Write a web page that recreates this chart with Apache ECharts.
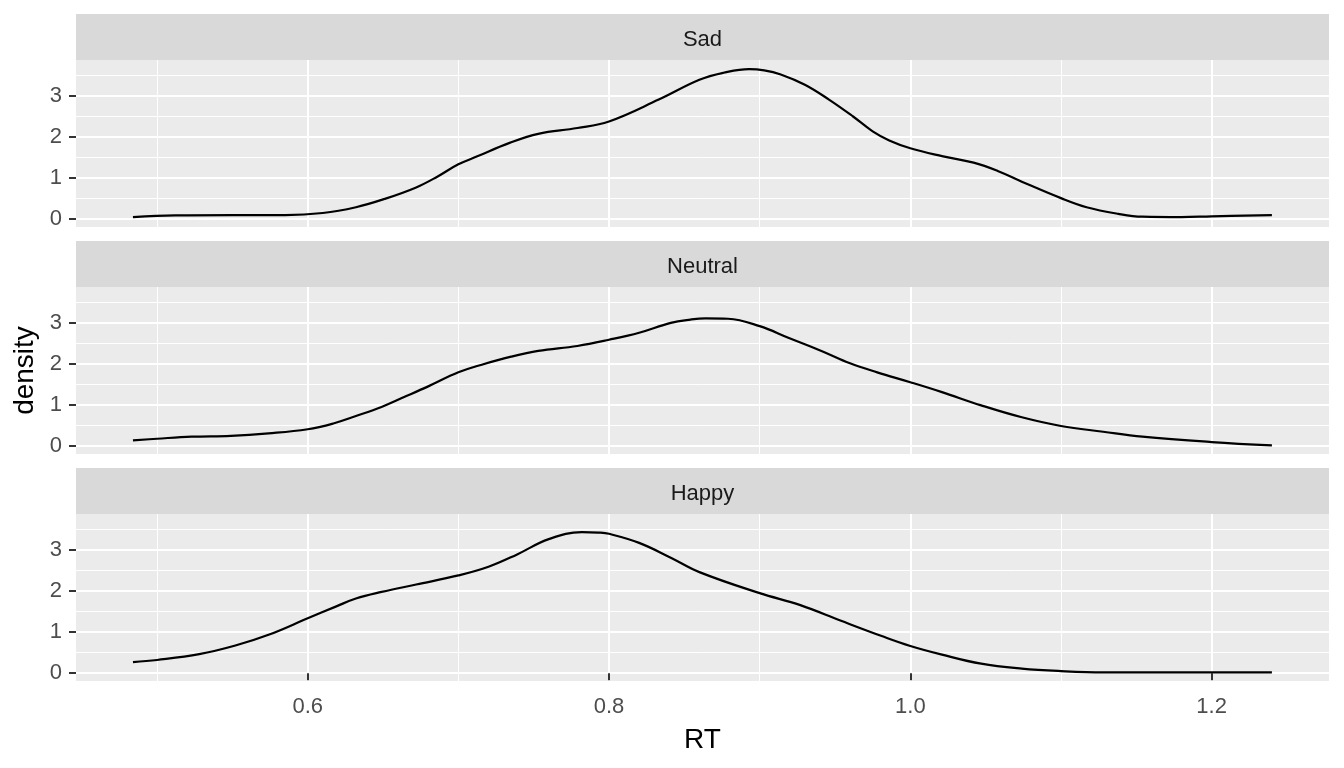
<!DOCTYPE html>
<html>
<head>
<meta charset="utf-8">
<script src="https://cdn.jsdelivr.net/npm/echarts@6/dist/echarts.min.js"></script>
<style>
html, body { margin: 0; padding: 0; background: #fff; }
#chart { width: 1344px; height: 768px; }
</style>
</head>
<body>
<div id="chart"></div>
<script>
// facet labels, top to bottom
var panelNames = ['Sad', 'Neutral', 'Happy'];

// density curves (RT, density)
var sadRT = [0.484, 0.512, 0.55, 0.585, 0.61, 0.632, 0.651, 0.672, 0.686, 0.7, 0.713, 0.734, 0.753, 0.779, 0.8, 0.833, 0.86, 0.876, 0.893, 0.903, 0.914, 0.93, 0.946, 0.962, 0.975, 0.986, 1.0, 1.021, 1.042, 1.058, 1.074, 1.1, 1.117, 1.138, 1.154, 1.18, 1.2, 1.24];
var sadDensity = [0.05, 0.09, 0.1, 0.1, 0.15, 0.29, 0.49, 0.77, 1.03, 1.33, 1.53, 1.85, 2.07, 2.21, 2.37, 2.9, 3.38, 3.55, 3.64, 3.61, 3.51, 3.26, 2.9, 2.49, 2.13, 1.91, 1.72, 1.53, 1.37, 1.17, 0.91, 0.51, 0.29, 0.13, 0.06, 0.05, 0.07, 0.1];

var neutralRT = [0.484, 0.5, 0.523, 0.549, 0.574, 0.6, 0.617, 0.632, 0.649, 0.664, 0.68, 0.7, 0.715, 0.735, 0.753, 0.779, 0.8, 0.82, 0.841, 0.854, 0.864, 0.879, 0.9, 0.919, 0.941, 0.96, 0.978, 1.0, 1.021, 1.047, 1.074, 1.1, 1.128, 1.154, 1.2, 1.24];
var neutralDensity = [0.14, 0.18, 0.23, 0.25, 0.31, 0.41, 0.55, 0.73, 0.95, 1.19, 1.45, 1.79, 1.97, 2.17, 2.31, 2.43, 2.58, 2.75, 2.99, 3.07, 3.1, 3.09, 2.91, 2.63, 2.31, 2.01, 1.79, 1.55, 1.31, 0.99, 0.7, 0.49, 0.35, 0.23, 0.1, 0.02];

var happyRT = [0.484, 0.5, 0.528, 0.552, 0.574, 0.6, 0.619, 0.632, 0.649, 0.672, 0.7, 0.72, 0.739, 0.76, 0.782, 0.793, 0.8, 0.82, 0.841, 0.86, 0.9, 0.927, 0.954, 0.981, 1.0, 1.021, 1.047, 1.074, 1.1, 1.128, 1.18, 1.24];
var happyDensity = [0.27, 0.32, 0.46, 0.67, 0.93, 1.33, 1.62, 1.81, 1.97, 2.15, 2.37, 2.58, 2.88, 3.25, 3.42, 3.41, 3.38, 3.16, 2.8, 2.45, 1.94, 1.65, 1.27, 0.9, 0.66, 0.45, 0.23, 0.11, 0.05, 0.02, 0.02, 0.02];

// axis breaks
var xMajorTicks = [0.6, 0.8, 1.0, 1.2];
var xMinorTicks = [0.5, 0.7, 0.9, 1.1];
var yMajorTicks = [0, 1, 2, 3];
var yMinorTicks = [0.5, 1.5, 2.5, 3.5];

var xRange = [0.4462, 1.2779];
var yRange = [-0.19, 3.86];

var FONT = 'Liberation Sans, Arial, Helvetica, sans-serif';
var panelTops = [60, 287, 514];
var panelH = 167;
var panelLeft = 76, panelRight = 15;

function pairs(xs, ys) {
	var out = [];
	for (var i = 0; i < xs.length; i++) out.push([xs[i], ys[i]]);
	return out;
}
var curves = [pairs(sadRT, sadDensity), pairs(neutralRT, neutralDensity), pairs(happyRT, happyDensity)];

var grids = [], xAxes = [], yAxes = [], series = [], graphics = [];

for (var p = 0; p < 3; p++) {
	var isLast = (p === 2);
	grids.push({ left: panelLeft, right: panelRight, top: panelTops[p], height: panelH,
		containLabel: false, outerBoundsMode: 'none',
		show: true, backgroundColor: '#EBEBEB', borderWidth: 0 });

	// minor x grid
	xAxes.push({ type: 'value', gridIndex: p, position: 'bottom', min: xRange[0], max: xRange[1],
		axisLine: { show: false }, axisLabel: { show: false },
		axisTick: { show: false, customValues: xMinorTicks },
		splitLine: { show: true, lineStyle: { color: '#fff', width: 1 } } });
	// major x grid (+ labels on last panel)
	xAxes.push({ type: 'value', gridIndex: p, position: 'bottom', min: xRange[0], max: xRange[1],
		axisLine: { show: false },
		axisTick: { show: isLast, customValues: xMajorTicks, length: 7, lineStyle: { color: '#333333', width: 2 } },
		axisLabel: { show: isLast, customValues: xMajorTicks, margin: 15, color: '#4D4D4D', fontSize: 22, fontFamily: FONT,
			formatter: function (v) { return v.toFixed(1); } },
		splitLine: { show: true, lineStyle: { color: '#fff', width: 2 } },
		name: isLast ? 'RT' : '', nameLocation: 'middle', nameGap: 45,
		nameTextStyle: { color: '#000', fontSize: 28, fontFamily: FONT } });

	yAxes.push({ type: 'value', gridIndex: p, position: 'left', min: yRange[0], max: yRange[1],
		axisLine: { show: false }, axisLabel: { show: false },
		axisTick: { show: false, customValues: yMinorTicks },
		splitLine: { show: true, lineStyle: { color: '#fff', width: 1 } } });
	yAxes.push({ type: 'value', gridIndex: p, position: 'left', min: yRange[0], max: yRange[1],
		axisLine: { show: false },
		axisTick: { show: true, customValues: yMajorTicks, length: 7, lineStyle: { color: '#333333', width: 2 } },
		axisLabel: { show: true, customValues: yMajorTicks, margin: 14, color: '#4D4D4D', fontSize: 22, fontFamily: FONT },
		splitLine: { show: true, lineStyle: { color: '#fff', width: 2 } },
		name: p === 1 ? 'density' : '', nameLocation: 'middle', nameGap: 36,
		nameTextStyle: { color: '#000', fontSize: 28, fontFamily: FONT } });

	series.push({ type: 'line', xAxisIndex: p * 2 + 1, yAxisIndex: p * 2 + 1,
		data: curves[p], showSymbol: false, smooth: 0.4, silent: true,
		lineStyle: { color: '#000', width: 2.2 } });

	// facet strip
	graphics.push({ type: 'rect', shape: { x: panelLeft, y: panelTops[p] - 46, width: 1344 - panelLeft - panelRight, height: 46 },
		style: { fill: '#D9D9D9' }, z: -1 });
	graphics.push({ type: 'text', x: (panelLeft + 1344 - panelRight) / 2, y: panelTops[p] - 20,
		style: { text: panelNames[p], fill: '#1A1A1A', fontSize: 22, fontFamily: FONT, align: 'center', verticalAlign: 'middle' } });
}

var myChart = echarts.init(document.getElementById('chart'), null, { renderer: 'canvas' });
myChart.setOption({
	animation: false,
	backgroundColor: '#fff',
	grid: grids,
	xAxis: xAxes,
	yAxis: yAxes,
	series: series,
	graphic: graphics
});
</script>
</body>
</html>
